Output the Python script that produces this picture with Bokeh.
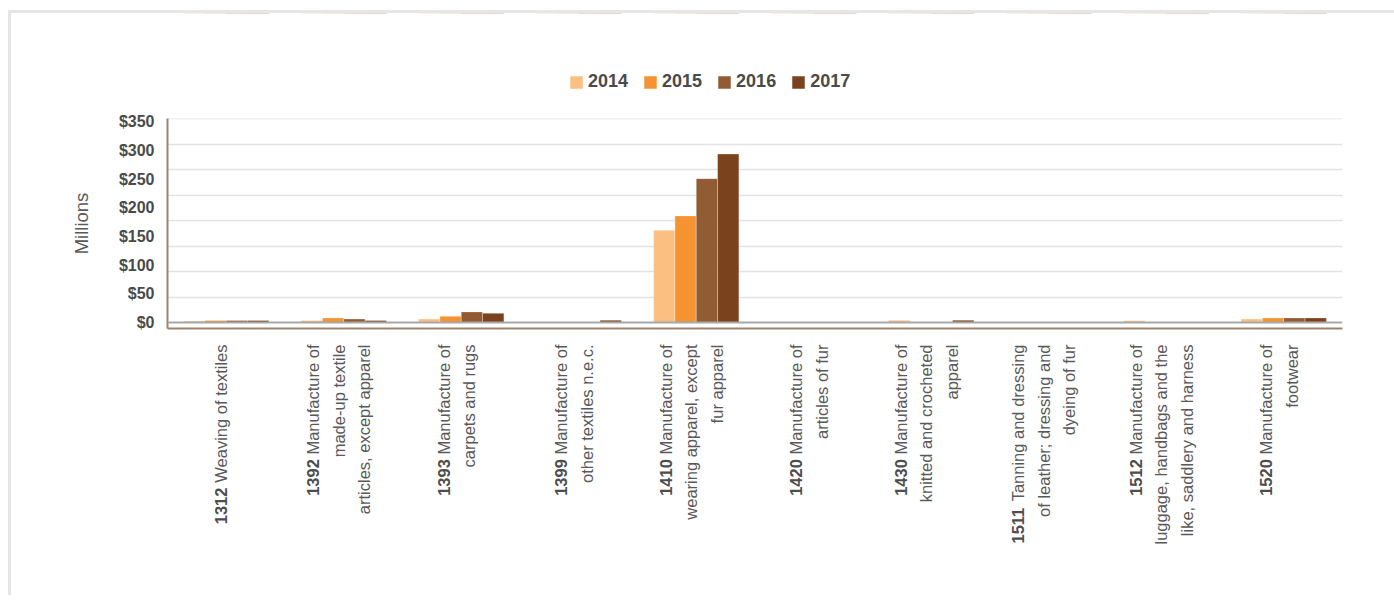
import math
from bokeh.plotting import figure
from bokeh.layouts import column
from bokeh.models import (ColumnDataSource, FactorRange, FixedTicker, NumeralTickFormatter,
                          Span, Legend, LegendItem, Range1d, LinearAxis)
from bokeh.core.properties import value
from bokeh.transform import dodge
from bokeh.embed import file_html
from bokeh.resources import INLINE

# ---------------- data ----------------
codes = ["1312", "1392", "1393", "1399", "1410", "1420", "1430", "1511", "1512", "1520"]
label_lines = [
    ["Weaving of textiles"],
    ["Manufacture of", "made-up textile", "articles, except apparel"],
    ["Manufacture of", "carpets and rugs"],
    ["Manufacture of", "other textiles n.e.c."],
    ["Manufacture of", "wearing apparel, except", "fur apparel"],
    ["Manufacture of", "articles of fur"],
    ["Manufacture of", "knitted and crocheted", "apparel"],
    ["Tanning and dressing", "of leather; dressing and", "dyeing of fur"],
    ["Manufacture of", "luggage, handbags and the", "like, saddlery and harness"],
    ["Manufacture of", "footwear"],
]
years = ["2014", "2015", "2016", "2017"]
v2014 = [2.5, 3.5, 6, 0, 161, 0, 4, 0, 3, 6]
v2015 = [3.5, 8, 11, 0, 186, 0, 0, 0, 0, 8]
v2016 = [3.5, 6, 18.5, 0, 251, 0, 0, 0, 0, 8]
v2017 = [3.5, 3.5, 16, 4, 294, 0, 4, 0, 0, 8]
y_ticks = [0, 50, 100, 150, 200, 250, 300, 350]

colors = ["#fcbf82", "#f59331", "#915b33", "#7b431d"]
FONT = "Liberation Sans"
TXT = "#595959"

# Arial / Liberation Sans advance widths (per 1000 em)
_W = {" ": 278, ",": 278, ".": 278, ";": 278, "-": 333,
      "a": 556, "b": 556, "c": 500, "d": 556, "e": 556, "f": 278, "g": 556, "h": 556,
      "i": 222, "j": 222, "k": 500, "l": 222, "m": 833, "n": 556, "o": 556, "p": 556,
      "q": 556, "r": 333, "s": 500, "t": 278, "u": 556, "v": 500, "w": 722, "x": 500,
      "y": 500, "z": 500, "M": 833, "W": 944, "T": 611}


def text_width(s, size):
    return sum(_W.get(ch, 556) for ch in s) * size / 1000.0


LBL_SIZE = 16.5
LINE_SP = 25.5

src = ColumnDataSource(dict(cat=codes, y2014=v2014, y2015=v2015, y2016=v2016, y2017=v2017))

OX, OY = 11, 13          # content origin on the page
W = 1383
FRAME_L, FRAME_R = 167, 1342
FRAME_T, FRAME_B = 118, 328
H0 = 95                  # legend strip
TOP1 = FRAME_T - (OY + H0)
BOT = 12
H1 = TOP1 + (FRAME_B - FRAME_T) + BOT
H2 = 601 - OY - H0 - H1 - 6

xr = FactorRange(*codes)
bw = 0.1815
offsets = [-1.5 * bw, -0.5 * bw, 0.5 * bw, 1.5 * bw]


def add_bars(fig):
    rs = []
    for yr, off, col in zip(years, offsets, colors):
        r = fig.vbar(x=dodge("cat", off, range=fig.x_range), top="y" + yr, width=bw, bottom=0,
                     source=src, fill_color=col, line_color="white", line_width=0.6,
                     line_alpha=0.5)
        rs.append(r)
    return rs


# ---------------- legend strip ----------------
p0 = figure(x_range=xr, y_range=Range1d(-1000, -999), width=W, height=H0,
            output_backend="svg", toolbar_location=None,
            x_axis_type=None, y_axis_type=None,
            min_border_left=0, min_border_right=0, min_border_top=0, min_border_bottom=0)
p0.outline_line_color = None
p0.grid.visible = False
p0.background_fill_alpha = 0
p0.border_fill_alpha = 0
leg_renderers = add_bars(p0)
legend = Legend(items=[LegendItem(label=yr, renderers=[r]) for yr, r in zip(years, leg_renderers)],
                orientation="horizontal", location=(401, 16),
                glyph_width=16, glyph_height=16, label_height=18, label_standoff=4,
                spacing=14, padding=0, margin=0,
                label_text_font=FONT, label_text_font_size="18px",
                label_text_font_style="bold", label_text_color="#4a4a4a",
                background_fill_alpha=0, border_line_color=None)
p0.add_layout(legend, "center")

# ---------------- main chart ----------------
p = figure(x_range=xr, y_range=(-10.5, 356), x_axis_type=None,
           width=W, height=H1, output_backend="svg", toolbar_location=None,
           min_border_left=FRAME_L - OX, min_border_right=OX + W - FRAME_R,
           min_border_top=TOP1, min_border_bottom=BOT)
p.outline_line_color = None
p.background_fill_color = "white"
p.border_fill_color = "white"
add_bars(p)

# zero line
p.add_layout(Span(location=0, dimension="width", line_color="#a8a8a8", line_width=2))

p.xgrid.visible = False
p.ygrid.ticker = FixedTicker(ticks=[44.4 * k for k in range(1, 9)])
p.ygrid.grid_line_color = "#e2e2e2"
p.ygrid.grid_line_width = 1.5

p.yaxis.ticker = FixedTicker(ticks=y_ticks)
p.yaxis.formatter = NumeralTickFormatter(format="$0,0")
p.yaxis.major_label_text_font = FONT
p.yaxis.major_label_text_font_size = "16px"
p.yaxis.major_label_text_font_style = "bold"
p.yaxis.major_label_text_color = "#4a4a4a"
p.yaxis.major_tick_line_color = None
p.yaxis.minor_tick_line_color = None
p.yaxis.major_tick_out = 0
p.yaxis.minor_tick_out = 0
p.yaxis.major_label_standoff = 13
p.yaxis.axis_line_color = "#a0826a"
p.yaxis.axis_line_width = 2
p.yaxis.axis_label = "Millions"
p.yaxis.axis_label_text_font = FONT
p.yaxis.axis_label_text_font_size = "18.5px"
p.yaxis.axis_label_text_font_style = "normal"
p.yaxis.axis_label_text_color = TXT
p.yaxis.axis_label_standoff = 24

# bottom axis: only the brown line (category names are drawn below)
xaxis = LinearAxis(ticker=FixedTicker(ticks=[]), axis_line_color="#a0826a", axis_line_width=2,
                   major_tick_line_color=None, minor_tick_line_color=None,
                   major_tick_out=0, minor_tick_out=0, major_label_standoff=0)
p.add_layout(xaxis, "below")

# ---------------- category labels (figure sharing the x range) ----------------
p2 = figure(x_range=xr, y_range=(0, H2), width=W, height=H2,
            output_backend="svg", toolbar_location=None,
            x_axis_type=None, y_axis_type=None,
            min_border_left=FRAME_L - OX, min_border_right=OX + W - FRAME_R,
            min_border_top=0, min_border_bottom=0)
p2.outline_line_color = None
p2.grid.visible = False
p2.background_fill_color = "white"
p2.border_fill_color = "white"

top_y = H2 - 4
n_x, n_y, n_t, n_xo = [], [], [], []
b_x, b_y, b_t, b_xo = [], [], [], []
for code, lines in zip(codes, label_lines):
    n = len(lines)
    for i, line in enumerate(lines):
        xo = -5 + (i - (n - 1) / 2.0) * LINE_SP
        n_x.append(code); n_y.append(top_y); n_t.append(line); n_xo.append(xo)
        if i == 0:
            wn = text_width(line, LBL_SIZE) + 278 * LBL_SIZE / 1000.0
            b_x.append(code); b_y.append(top_y - wn); b_t.append(code); b_xo.append(xo)

p2.text(x="x", y="y", text="text", x_offset="xo",
        source=ColumnDataSource(dict(x=n_x, y=n_y, text=n_t, xo=n_xo)),
        angle=math.pi / 2, text_align="right", text_baseline="middle",
        text_font=value(FONT), text_font_size=f"{LBL_SIZE}px", text_color=TXT)
p2.text(x="x", y="y", text="text", x_offset="xo",
        source=ColumnDataSource(dict(x=b_x, y=b_y, text=b_t, xo=b_xo)),
        angle=math.pi / 2, text_align="right", text_baseline="middle",
        text_font=value(FONT), text_font_size=f"{LBL_SIZE}px", text_font_style="bold",
        text_color="#4d4d4d")

layout = column(p0, p, p2, spacing=0,
                styles={"margin-left": "8px", "margin-top": "10px",
                        "border-top": "3px solid #e6e6e6", "border-left": "3px solid #e6e6e6"})

open("out.html", "w").write(file_html(layout, INLINE))
